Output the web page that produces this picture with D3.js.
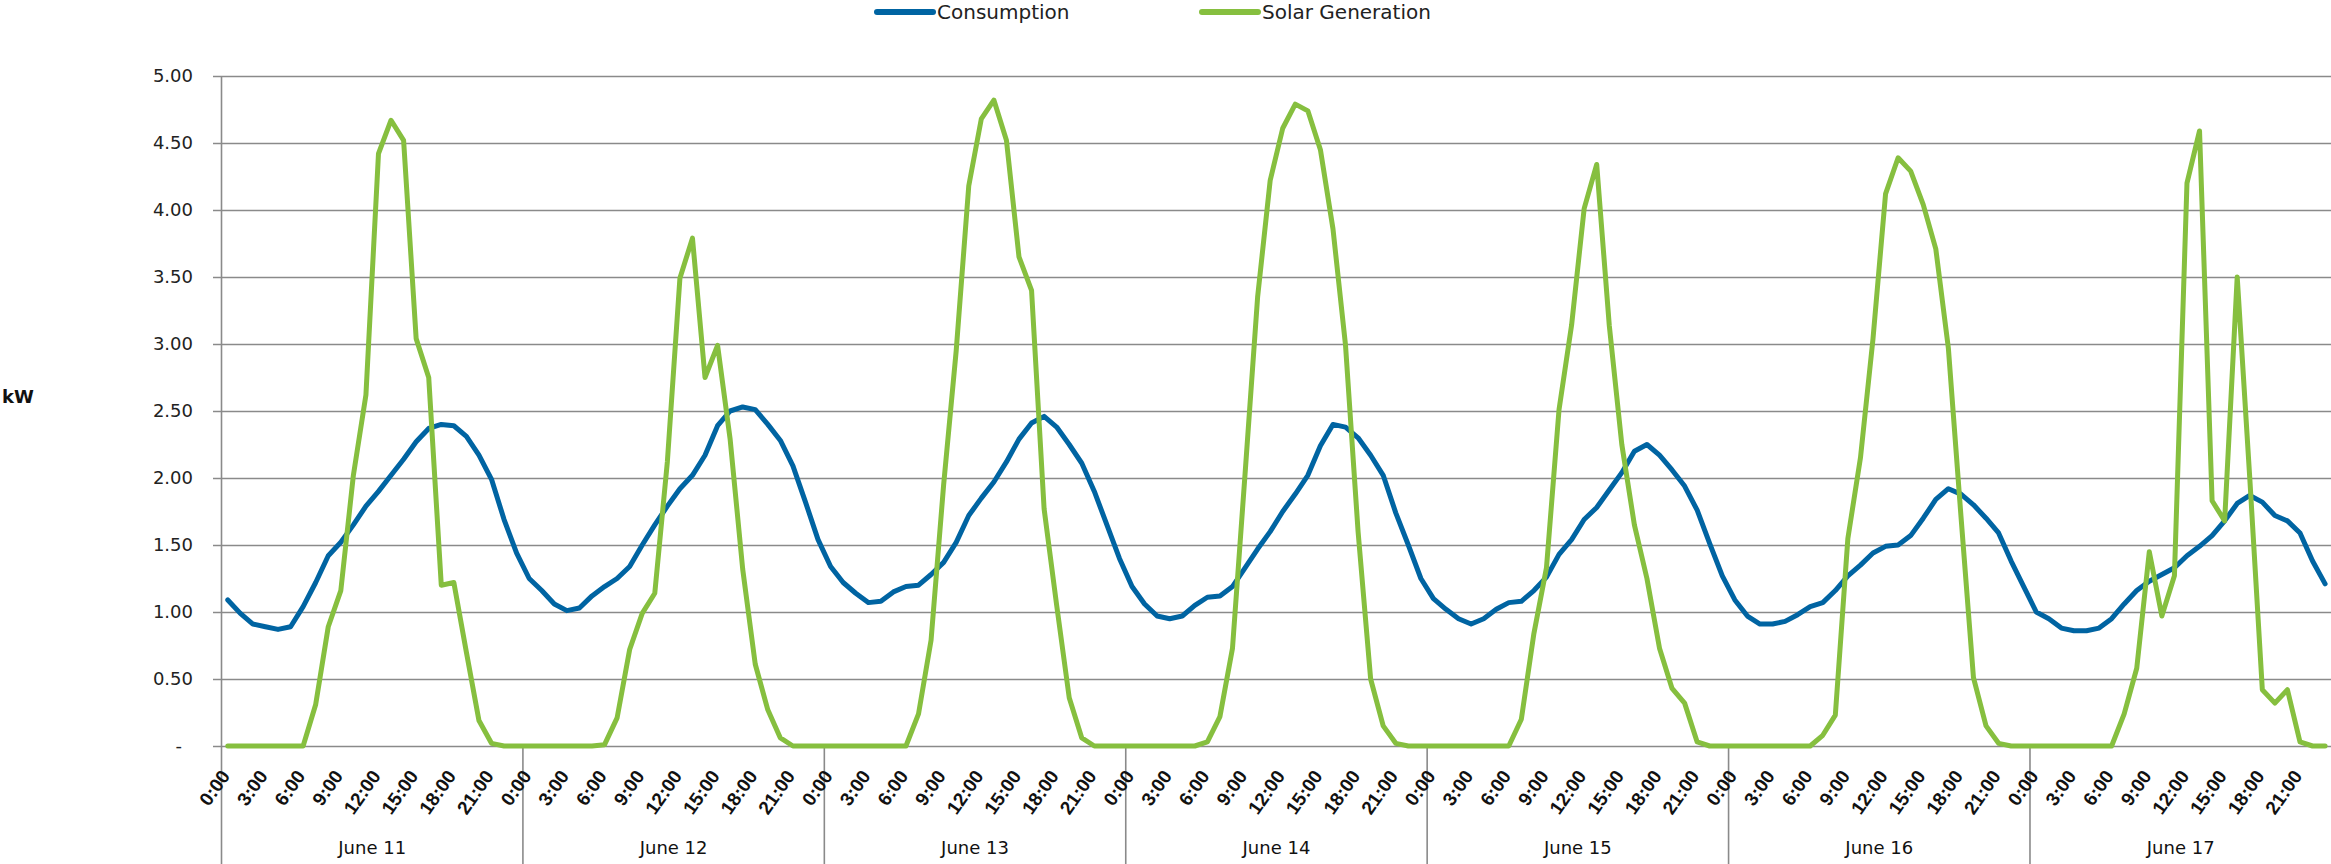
<!DOCTYPE html>
<html><head><meta charset="utf-8">
<script src="https://cdn.jsdelivr.net/npm/d3@7"></script>
<style>body{margin:0;background:#fff;} svg{display:block;}</style>
</head><body><svg id="chart" width="2331" height="864"></svg>
<script>
// ---------- DATA ----------
const days = ["June 11","June 12","June 13","June 14","June 15","June 16","June 17"];
const hourLabels = ["0:00","3:00","6:00","9:00","12:00","15:00","18:00","21:00"];
const hoursPerDay = 24;
const labelEvery = 3;
const yTickValues = [0,0.5,1,1.5,2,2.5,3,3.5,4,4.5,5];
const yTickLabels = ["-","0.50","1.00","1.50","2.00","2.50","3.00","3.50","4.00","4.50","5.00"];
const yTitle = "kW";
const seriesNames = ["Consumption","Solar Generation"];

// hourly consumption (kW), one row per day
const consumption = [
  [1.09,0.99,0.91,0.89,0.87,0.89,1.04,1.22,1.42,1.52,1.65,1.79,1.90,2.02,2.14,2.27,2.37,2.40,2.39,2.31,2.17,1.99,1.69,1.44],
  [1.25,1.16,1.06,1.01,1.03,1.12,1.19,1.25,1.34,1.50,1.65,1.79,1.92,2.02,2.17,2.39,2.50,2.53,2.51,2.40,2.28,2.09,1.82,1.54],
  [1.34,1.22,1.14,1.07,1.08,1.15,1.19,1.20,1.28,1.37,1.52,1.72,1.85,1.97,2.12,2.29,2.41,2.46,2.38,2.25,2.11,1.90,1.65,1.40],
  [1.19,1.06,0.97,0.95,0.97,1.05,1.11,1.12,1.19,1.33,1.47,1.60,1.75,1.88,2.02,2.24,2.40,2.38,2.30,2.17,2.02,1.74,1.50,1.25],
  [1.10,1.02,0.95,0.91,0.95,1.02,1.07,1.08,1.16,1.26,1.43,1.54,1.69,1.78,1.91,2.04,2.20,2.25,2.17,2.06,1.94,1.76,1.51,1.27],
  [1.09,0.97,0.91,0.91,0.93,0.98,1.04,1.07,1.16,1.27,1.35,1.44,1.49,1.50,1.57,1.70,1.84,1.92,1.88,1.80,1.70,1.59,1.38,1.19],
  [1.00,0.95,0.88,0.86,0.86,0.88,0.95,1.06,1.16,1.23,1.28,1.33,1.42,1.49,1.57,1.68,1.81,1.87,1.82,1.72,1.68,1.59,1.38,1.21]
];
// hourly solar generation (kW), one row per day
const solar = [
  [0,0,0,0,0,0,0,0.31,0.89,1.16,2.02,2.62,4.42,4.67,4.52,3.04,2.75,1.20,1.22,0.70,0.19,0.02,0,0],
  [0,0,0,0,0,0,0.01,0.21,0.72,0.99,1.14,2.12,3.49,3.79,2.75,2.99,2.29,1.32,0.61,0.27,0.06,0,0,0],
  [0,0,0,0,0,0,0,0.24,0.79,1.95,2.95,4.18,4.68,4.82,4.52,3.65,3.40,1.77,1.05,0.36,0.06,0,0,0],
  [0,0,0,0,0,0,0.03,0.22,0.73,2.03,3.35,4.22,4.61,4.79,4.74,4.45,3.86,2.99,1.60,0.50,0.15,0.02,0,0],
  [0,0,0,0,0,0,0,0.20,0.84,1.33,2.51,3.14,4.01,4.34,3.14,2.25,1.65,1.25,0.73,0.43,0.32,0.03,0,0],
  [0,0,0,0,0,0,0,0.08,0.23,1.55,2.15,3.04,4.12,4.39,4.29,4.04,3.71,2.97,1.72,0.51,0.15,0.02,0,0],
  [0,0,0,0,0,0,0,0.24,0.58,1.45,0.97,1.27,4.20,4.59,1.83,1.68,3.50,2.00,0.42,0.32,0.42,0.03,0,0]
];
const colors = ["#0064A2","#86BF3F"];

// ---------- LAYOUT ----------
const W = 2331, H = 864;
const plotL = 221.5, plotR = 2331.4, plotT = 76, plotB = 746;
const svg = d3.select("#chart");

const n = days.length * hoursPerDay;
const x = d3.scaleBand().domain(d3.range(n)).range([plotL, plotR]).paddingInner(0).paddingOuter(0);
const xc = i => x(i) + x.bandwidth() / 2;
const y = d3.scaleLinear().domain([0, 5]).range([plotB, plotT]);

// gridlines + y ticks via axis
const yAxis = d3.axisLeft(y)
  .tickValues(yTickValues)
  .tickFormat((d, i) => yTickLabels[i])
  .tickSizeInner(-(W - 213))
  .tickSizeOuter(0)
  .tickPadding(20);
const gy = svg.append("g").attr("transform", "translate(213,0)").call(yAxis);
gy.select(".domain").remove();
gy.selectAll(".tick line").attr("stroke", "#8a8a8a").attr("stroke-width", 1.6);
gy.selectAll(".tick text")
  .attr("font-family", "DejaVu Sans, sans-serif")
  .attr("font-size", 18)
  .attr("fill", "#222")
  .attr("dx", d => d === 0 ? -11 : 0);

// y axis line
svg.append("line").attr("x1", plotL).attr("x2", plotL).attr("y1", plotT).attr("y2", H)
  .attr("stroke", "#8a8a8a").attr("stroke-width", 1.6);

// day separators below axis
days.forEach((d, k) => {
  if (k === 0) return;
  const xb = x(k * hoursPerDay);
  svg.append("line").attr("x1", xb).attr("x2", xb).attr("y1", plotB).attr("y2", H)
    .attr("stroke", "#8a8a8a").attr("stroke-width", 1.6);
});

// hour labels
const hourG = svg.append("g");
days.forEach((d, k) => {
  hourLabels.forEach((lab, j) => {
    const i = k * hoursPerDay + j * labelEvery;
    const px = xc(i) + 3, py = 776;
    hourG.append("text")
      .attr("transform", `translate(${px},${py}) rotate(-55)`)
      .attr("text-anchor", "end")
      .attr("font-family", "Liberation Sans, Arial, sans-serif")
      .attr("font-weight", "bold")
      .attr("font-size", 19)
      .attr("fill", "#111")
      .text(lab);
  });
  // day label
  const mid = (x(k * hoursPerDay) + x(k * hoursPerDay + hoursPerDay - 1) + x.bandwidth()) / 2;
  svg.append("text")
    .attr("x", mid).attr("y", 854)
    .attr("text-anchor", "middle")
    .attr("font-family", "DejaVu Sans, sans-serif")
    .attr("font-size", 18)
    .attr("fill", "#111")
    .text(d);
});

// y title
svg.append("text").attr("x", 2).attr("y", 403)
  .attr("font-family", "DejaVu Sans, sans-serif").attr("font-weight", "bold")
  .attr("font-size", 18).attr("fill", "#111").text(yTitle);

// series lines
const line = d3.line().x((d, i) => xc(i)).y(d => y(d));
[consumption, solar].forEach((s, si) => {
  svg.append("path")
    .datum(s.flat())
    .attr("d", line)
    .attr("fill", "none")
    .attr("stroke", colors[si])
    .attr("stroke-width", 5)
    .attr("stroke-linejoin", "round")
    .attr("stroke-linecap", "round");
});

// legend
const legendX = [877, 1202];
seriesNames.forEach((name, si) => {
  const lx = legendX[si];
  svg.append("line").attr("x1", lx).attr("x2", lx + 56).attr("y1", 12).attr("y2", 12)
    .attr("stroke", colors[si]).attr("stroke-width", 6).attr("stroke-linecap", "round");
  svg.append("text").attr("x", lx + 60).attr("y", 19)
    .attr("font-family", "DejaVu Sans, sans-serif").attr("font-size", 20)
    .attr("fill", "#222").text(name);
});
</script></body></html>
